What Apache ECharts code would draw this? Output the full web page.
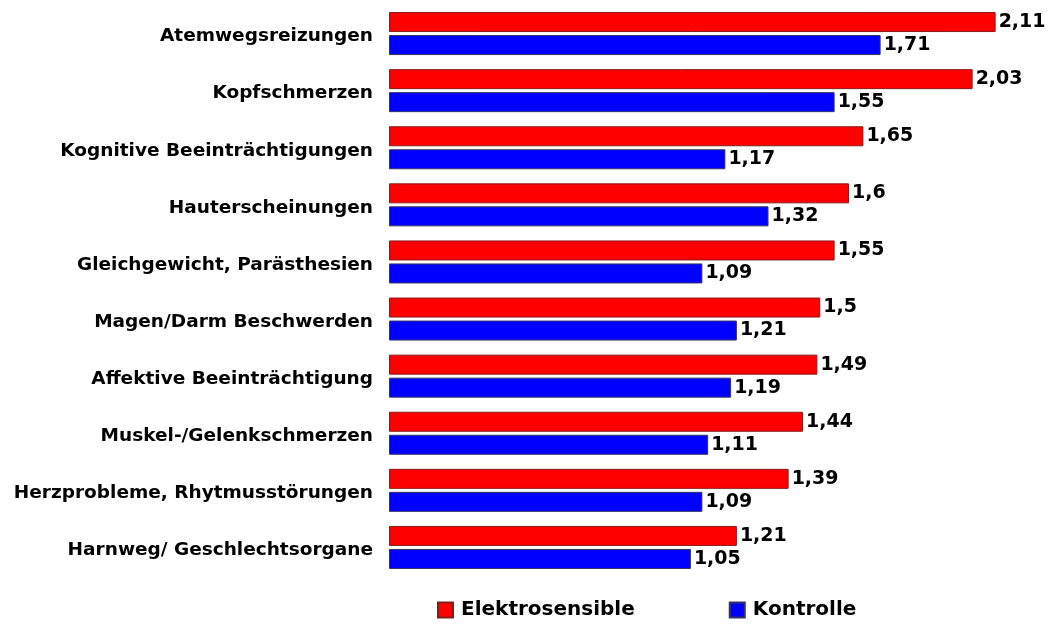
<!DOCTYPE html>
<html>
<head>
<meta charset="utf-8">
<script src="https://cdn.jsdelivr.net/npm/echarts@6/dist/echarts.min.js"></script>
<style>
  html, body { margin: 0; padding: 0; background: #fff; }
  #main { width: 1050px; height: 624px; }
</style>
</head>
<body>
<div id="main"></div>
<script>
// Kategorien (von oben nach unten)
const categories = [
  'Atemwegsreizungen',
  'Kopfschmerzen',
  'Kognitive Beeinträchtigungen',
  'Hauterscheinungen',
  'Gleichgewicht, Parästhesien',
  'Magen/Darm Beschwerden',
  'Affektive Beeinträchtigung',
  'Muskel-/Gelenkschmerzen',
  'Herzprobleme, Rhytmusstörungen',
  'Harnweg/ Geschlechtsorgane'
];
const elektrosensible = [2.11, 2.03, 1.65, 1.6, 1.55, 1.5, 1.49, 1.44, 1.39, 1.21];
const kontrolle = [1.71, 1.55, 1.17, 1.32, 1.09, 1.21, 1.19, 1.11, 1.09, 1.05];

const fontFamily = 'Verdana, "DejaVu Sans", sans-serif';

let myChart = echarts.init(document.getElementById('main'));

// Zahlen mit Komma anzeigen
const fmt = function (p) {
  return String(p.value).replace('.', ',');
};

let option = {
  animation: false,
  grid: {
    top: 5,
    bottom: 48,
    left: 389,
    right: 28.5
  },
  legend: {
    bottom: -1,
    left: 432,
    itemWidth: 15,
    itemHeight: 15,
    itemGap: 94,
    icon: 'rect',
    textStyle: {
      fontFamily: fontFamily,
      fontWeight: 'bold',
      fontSize: 20,
      color: '#000',
      padding: [0, 0, 0, 3]
    },
    data: ['Elektrosensible', 'Kontrolle']
  },
  xAxis: {
    type: 'value',
    min: 0,
    max: 2.2,
    show: false
  },
  yAxis: {
    type: 'category',
    inverse: true,
    data: categories,
    axisLine: { show: false },
    axisTick: { show: false },
    axisLabel: {
      margin: 16,
      formatter: '{t|{value}}',
      rich: {
        t: {
          color: '#000',
          fontFamily: fontFamily,
          fontWeight: 'bold',
          fontSize: 18.5,
          padding: [6, 0, 0, 0]
        }
      }
    }
  },
  series: [
    {
      name: 'Elektrosensible',
      type: 'bar',
      data: elektrosensible,
      barWidth: 20,
      barGap: '15%',
      itemStyle: {
        color: '#ff0000',
        borderColor: '#8a1a1a',
        borderWidth: 1
      },
      label: {
        show: true,
        position: 'right',
        distance: 3,
        formatter: fmt,
        color: '#000',
        fontFamily: fontFamily,
        fontWeight: 'bold',
        fontSize: 19
      }
    },
    {
      name: 'Kontrolle',
      type: 'bar',
      data: kontrolle,
      barWidth: 20,
      itemStyle: {
        color: '#0000ff',
        borderColor: '#333366',
        borderWidth: 1
      },
      label: {
        show: true,
        position: 'right',
        distance: 3,
        formatter: fmt,
        color: '#000',
        fontFamily: fontFamily,
        fontWeight: 'bold',
        fontSize: 19
      }
    }
  ]
};

myChart.setOption(option);
</script>
</body>
</html>
